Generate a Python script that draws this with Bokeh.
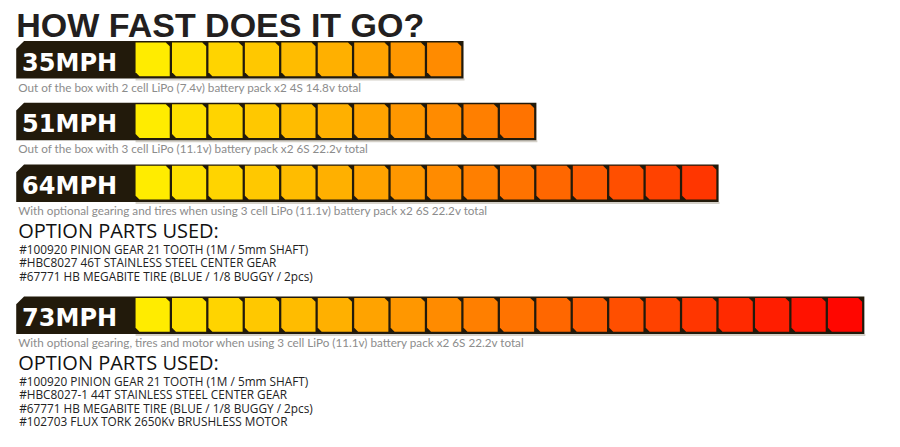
import colorsys
from bokeh.plotting import figure
from bokeh.models import Range1d
from bokeh.core.properties import value
from bokeh.embed import file_html
from bokeh.resources import INLINE

# ---------------- data ----------------
title_text = "HOW FAST DOES IT GO?"
speed_labels = ["35MPH", "51MPH", "64MPH", "73MPH"]
cell_counts = [9, 11, 16, 20]
captions = [
    "Out of the box with 2 cell LiPo (7.4v) battery pack x2 4S 14.8v total",
    "Out of the box with 3 cell LiPo (11.1v) battery pack x2 6S 22.2v total",
    "With optional gearing and tires when using 3 cell LiPo (11.1v)  battery pack x2 6S 22.2v total",
    "With optional gearing, tires and motor when using 3 cell LiPo (11.1v)  battery pack x2 6S 22.2v total",
]
parts_header = "OPTION PARTS USED:"
parts_row3 = [
    "#100920 PINION GEAR 21 TOOTH (1M / 5mm SHAFT)",
    "#HBC8027 46T STAINLESS STEEL CENTER GEAR",
    "#67771 HB MEGABITE TIRE (BLUE / 1/8 BUGGY / 2pcs)",
]
parts_row4 = [
    "#100920 PINION GEAR 21 TOOTH (1M / 5mm SHAFT)",
    "#HBC8027-1 44T STAINLESS STEEL CENTER GEAR",
    "#67771 HB MEGABITE TIRE (BLUE / 1/8 BUGGY / 2pcs)",
    "#102703 FLUX TORK 2650Kv BRUSHLESS MOTOR",
]
parts_lists = [[], [], parts_row3, parts_row4]

# ---------------- layout ----------------
W, H = 884, 431
SY = H / 447.0
DARK = "#221a0b"
bar_tops = [42, 106, 170, 307]
bar_h = 39
left_x = 16
cell_x0 = 137.5
pitch = 37.1
cell_w = 34.8
max_cells = max(cell_counts)
span = max_cells * pitch

def lift(size_px, k=0.3):
    # compensate the renderer's baseline offset
    return k * size_px / SY

def grad_color(x):
    t = min(max((x - cell_x0) / span, 0.0), 1.0)
    h = (57.0 * (1.0 - t)) / 360.0
    r, g, b = colorsys.hsv_to_rgb(h, 1.0, 1.0)
    return "#%02x%02x%02x" % (int(r * 255), int(g * 255), int(b * 255))

p = figure(width=W, height=H, x_range=Range1d(0, 900), y_range=Range1d(447, 0),
           output_backend="svg", toolbar_location=None, min_border=0)
p.axis.visible = False
p.grid.visible = False
p.outline_line_color = None
p.background_fill_color = "white"
p.border_fill_color = "white"

bg_xs, bg_ys = [], []
sh_l, sh_r, sh_t, sh_b = [], [], [], []
c_xs, c_ys, c_col = [], [], []
lab_x, lab_y, lab_t = [], [], []
cap_x, cap_y, cap_t = [], [], []
hdr_y = []
prt_y, prt_t = [], []

F_TITLE, F_LAB, F_CAP, F_HDR, F_PRT = 34, 24, 11.7, 20, 11.8

for i, n in enumerate(cell_counts):
    top = bar_tops[i]
    bot = top + bar_h
    end = cell_x0 + n * pitch
    bg_xs.append([left_x, left_x + 8, end, end, left_x])
    bg_ys.append([top + 8, top, top, bot, bot])
    sh_l.append(cell_x0); sh_r.append(end + 1); sh_t.append(bot); sh_b.append(bot + 2)
    ctop, cbot = top + 1.5, bot - 2.5
    c = 4.0
    for k in range(n):
        cx0 = cell_x0 + k * pitch
        cx1 = cx0 + cell_w
        c_xs.append([cx0, cx1 - c, cx1, cx1, cx0 + c, cx0])
        c_ys.append([ctop, ctop, ctop + c, cbot, cbot, cbot - c])
        c_col.append(grad_color((cx0 + cx1) / 2))
    lab_x.append(22); lab_y.append(top + 30 - lift(F_LAB)); lab_t.append(speed_labels[i])
    cap_x.append(18); cap_y.append(bot + 12 - lift(F_CAP)); cap_t.append(captions[i])
    if parts_lists[i]:
        hdr_y.append(bot + 36 - lift(F_HDR))
        for j, line in enumerate(parts_lists[i]):
            prt_y.append(bot + 52 + j * 14 - lift(F_PRT))
            prt_t.append(line)

p.quad(left=sh_l, right=sh_r, top=sh_t, bottom=sh_b, fill_color="#d4d0c8", line_color=None)
p.patches(xs=bg_xs, ys=bg_ys, fill_color=DARK, line_color=None)
p.patches(xs=c_xs, ys=c_ys, fill_color=c_col, line_color=None)

p.text(x=[16], y=[34 - lift(F_TITLE, 0.24)], text=[title_text], text_font=value("Liberation Sans"),
       text_font_style="bold", text_font_size=f"{F_TITLE}px", text_color="#231f20",
       text_baseline="alphabetic")
p.text(x=lab_x, y=lab_y, text=lab_t, text_font=value("DejaVu Sans"), text_font_style="bold",
       text_font_size=f"{F_LAB}px", text_color="white", text_baseline="alphabetic")
p.text(x=cap_x, y=cap_y, text=cap_t, text_font=value("Lato"), text_font_size=f"{F_CAP}px",
       text_color="#8c8c8c", text_baseline="alphabetic")
p.text(x=[18] * len(hdr_y), y=hdr_y, text=[parts_header] * len(hdr_y), text_font=value("Open Sans"),
       text_font_size=f"{F_HDR}px", text_color="#111111", text_baseline="alphabetic")
p.text(x=[19] * len(prt_y), y=prt_y, text=prt_t, text_font=value("Open Sans"),
       text_font_size=f"{F_PRT}px", text_color="#222222", text_baseline="alphabetic")

open("out.html", "w").write(file_html(p, INLINE))
